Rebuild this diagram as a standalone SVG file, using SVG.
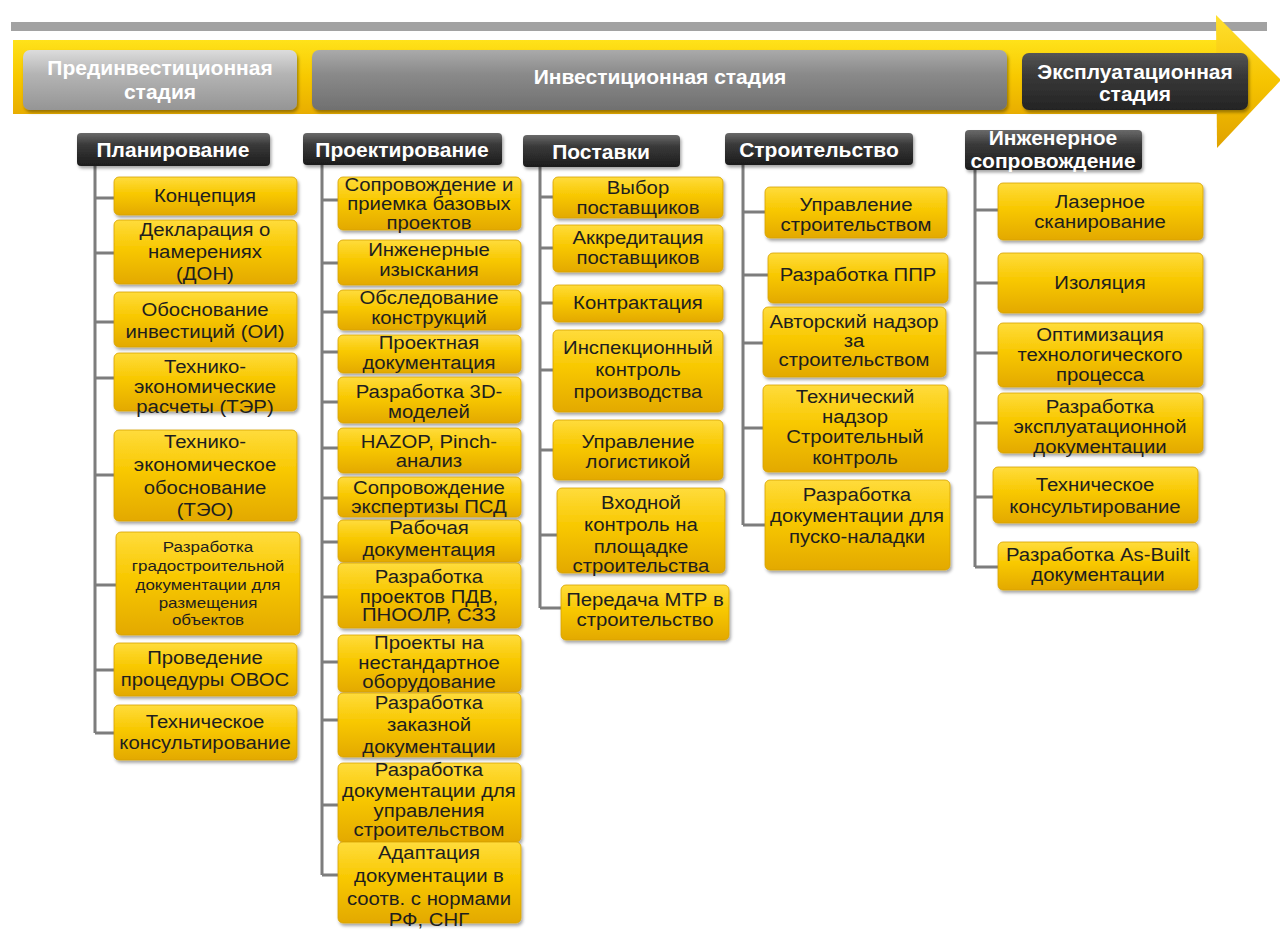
<svg xmlns="http://www.w3.org/2000/svg" width="1280" height="931" viewBox="0 0 1280 931">
<defs>
<linearGradient id="gold" x1="0" y1="0" x2="0" y2="1">
<stop offset="0" stop-color="#ffdc3c"/>
<stop offset="0.45" stop-color="#f8c800"/>
<stop offset="1" stop-color="#e3a900"/>
</linearGradient>
<linearGradient id="band" x1="0" y1="0" x2="0" y2="1">
<stop offset="0" stop-color="#ffe21a"/>
<stop offset="0.5" stop-color="#f7c800"/>
<stop offset="1" stop-color="#e8ad00"/>
</linearGradient>
<linearGradient id="head" x1="0" y1="0" x2="0" y2="1">
<stop offset="0" stop-color="#ffe030"/>
<stop offset="0.5" stop-color="#f6c400"/>
<stop offset="1" stop-color="#e0a200"/>
</linearGradient>
<linearGradient id="dark" x1="0" y1="0" x2="0" y2="1">
<stop offset="0" stop-color="#6a6a6a"/>
<stop offset="0.35" stop-color="#3a3a3a"/>
<stop offset="1" stop-color="#1c1c1c"/>
</linearGradient>
<linearGradient id="pre" x1="0" y1="0" x2="0" y2="1">
<stop offset="0" stop-color="#dcdcdc"/>
<stop offset="0.4" stop-color="#b4b4b4"/>
<stop offset="1" stop-color="#959595"/>
</linearGradient>
<linearGradient id="inv" x1="0" y1="0" x2="0" y2="1">
<stop offset="0" stop-color="#aaaaaa"/>
<stop offset="0.4" stop-color="#8a8a8a"/>
<stop offset="1" stop-color="#707070"/>
</linearGradient>
<linearGradient id="eks" x1="0" y1="0" x2="0" y2="1">
<stop offset="0" stop-color="#555555"/>
<stop offset="0.4" stop-color="#383838"/>
<stop offset="1" stop-color="#242424"/>
</linearGradient>
<filter id="sh" x="-10%" y="-20%" width="120%" height="150%">
<feDropShadow dx="1.5" dy="2.5" stdDeviation="1.5" flood-color="#000" flood-opacity="0.35"/>
</filter>
</defs>
<style>
.box{fill:url(#gold);stroke:#d7a200;stroke-width:0.8;filter:url(#sh)}
.hdr{fill:url(#dark);filter:url(#sh)}
.t{font-family:"Liberation Sans",Arial,sans-serif;font-size:18px;fill:#1e1e1e;text-anchor:middle;transform:scaleX(1.13);transform-box:fill-box;transform-origin:center}
.s{font-size:15px}
.h{font-family:"Liberation Sans",Arial,sans-serif;font-size:21px;font-weight:bold;fill:#ffffff;text-anchor:middle}
.st{font-family:"Liberation Sans",Arial,sans-serif;font-size:21px;font-weight:bold;fill:#ffffff;text-anchor:middle}
.ln{stroke:#7d7d7d;stroke-width:3;fill:none}
</style>
<rect width="1280" height="931" fill="#ffffff"/>
<g id="timeline">
<rect x="11" y="22" width="1256" height="9" fill="#a2a2a2"/>
<rect x="13" y="40" width="1206" height="74" fill="url(#band)"/>
<polygon points="1216,15 1281,80 1217,148" fill="url(#head)"/>
</g>
<g id="stage-pre">
<rect x="23" y="50" width="274" height="60" rx="7" fill="url(#pre)" filter="url(#sh)"/>
<text class="st" x="160" y="75">Прединвестиционная</text>
<text class="st" x="160" y="99">стадия</text>
</g>
<g id="stage-inv">
<rect x="312" y="50" width="695" height="60" rx="7" fill="url(#inv)" filter="url(#sh)"/>
<text class="st" x="660" y="84">Инвестиционная стадия</text>
</g>
<g id="stage-eks">
<rect x="1022" y="53" width="226" height="57" rx="7" fill="url(#eks)" filter="url(#sh)"/>
<text class="st" x="1135" y="79">Эксплуатационная</text>
<text class="st" x="1135" y="101">стадия</text>
</g>
<g id="connectors">
<path class="ln" d="M95,166V733M95,198H115M95,253H115M95,322H115M95,378H115M95,475H115M95,585H117M95,670H115M95,733H115"/>
<path class="ln" d="M322,165V875M322,200H338M322,263H338M322,312H338M322,352H338M322,402H338M322,448H338M322,498H338M322,542H338M322,597H338M322,662H338M322,720H338M322,805H338M322,875H338"/>
<path class="ln" d="M540,167V608M540,197H553M540,248H553M540,303H553M540,370H553M540,450H553M540,535H557M540,608H561"/>
<path class="ln" d="M743,165V525M743,212H765M743,275H768M743,343H763M743,428H763M743,525H765"/>
<path class="ln" d="M975,170V567M975,210H998M975,283H998M975,353H998M975,423H998M975,497H993M975,567H998"/>
</g>
<g id="h-plan"><rect class="hdr" x="77" y="133" width="193" height="33" rx="4"/><text class="h" x="173" y="157">Планирование</text></g>
<g id="h-proj"><rect class="hdr" x="303" y="133" width="199" height="32" rx="4"/><text class="h" x="402" y="157">Проектирование</text></g>
<g id="h-supp"><rect class="hdr" x="523" y="135" width="157" height="32" rx="4"/><text class="h" x="601" y="159">Поставки</text></g>
<g id="h-constr"><rect class="hdr" x="725" y="133" width="188" height="32" rx="4"/><text class="h" x="819" y="157">Строительство</text></g>
<g id="h-eng"><rect class="hdr" x="965" y="130" width="177" height="40" rx="4"/><text class="h" x="1053" y="145">Инженерное</text><text class="h" x="1053" y="168">сопровождение</text></g>

<g id="p1"><rect class="box" x="114" y="177" width="183" height="38" rx="5"/><text class="t" x="205" y="202">Концепция</text></g>
<g id="p2"><rect class="box" x="114" y="220" width="183" height="64" rx="5"/><text class="t" x="205" y="236">Декларация о</text><text class="t" x="205" y="258">намерениях</text><text class="t" x="205" y="280">(ДОН)</text></g>
<g id="p3"><rect class="box" x="114" y="292" width="183" height="55" rx="5"/><text class="t" x="205" y="316">Обоснование</text><text class="t" x="205" y="338">инвестиций (ОИ)</text></g>
<g id="p4"><rect class="box" x="114" y="353" width="183" height="58" rx="5"/><text class="t" x="205" y="373">Технико-</text><text class="t" x="205" y="393">экономические</text><text class="t" x="205" y="413">расчеты (ТЭР)</text></g>
<g id="p5"><rect class="box" x="114" y="430" width="183" height="91" rx="5"/><text class="t" x="205" y="448">Технико-</text><text class="t" x="205" y="471">экономическое</text><text class="t" x="205" y="494">обоснование</text><text class="t" x="205" y="516">(ТЭО)</text></g>
<g id="p6"><rect class="box" x="116" y="532" width="184" height="103" rx="5"/><text class="t s" x="208" y="552">Разработка</text><text class="t s" x="208" y="571">градостроительной</text><text class="t s" x="208" y="590">документации  для</text><text class="t s" x="208" y="608">размещения</text><text class="t s" x="208" y="625">объектов</text></g>
<g id="p7"><rect class="box" x="114" y="643" width="183" height="53" rx="5"/><text class="t" x="205" y="664">Проведение</text><text class="t" x="205" y="686">процедуры ОВОС</text></g>
<g id="p8"><rect class="box" x="114" y="705" width="183" height="55" rx="5"/><text class="t" x="205" y="728">Техническое</text><text class="t" x="205" y="749">консультирование</text></g>

<g id="d1"><rect class="box" x="338" y="177" width="183" height="53" rx="5"/><text class="t" x="429" y="191">Сопровождение и</text><text class="t" x="429" y="210">приемка базовых</text><text class="t" x="429" y="229">проектов</text></g>
<g id="d2"><rect class="box" x="338" y="240" width="183" height="45" rx="5"/><text class="t" x="429" y="256">Инженерные</text><text class="t" x="429" y="276">изыскания</text></g>
<g id="d3"><rect class="box" x="338" y="290" width="183" height="40" rx="5"/><text class="t" x="429" y="304">Обследование</text><text class="t" x="429" y="324">конструкций</text></g>
<g id="d4"><rect class="box" x="338" y="335" width="183" height="38" rx="5"/><text class="t" x="429" y="349">Проектная</text><text class="t" x="429" y="369">документация</text></g>
<g id="d5"><rect class="box" x="338" y="377" width="183" height="46" rx="5"/><text class="t" x="429" y="398">Разработка 3D-</text><text class="t" x="429" y="418">моделей</text></g>
<g id="d6"><rect class="box" x="338" y="428" width="183" height="45" rx="5"/><text class="t" x="429" y="448">HAZOP, Pinch-</text><text class="t" x="429" y="467">анализ</text></g>
<g id="d7"><rect class="box" x="338" y="477" width="183" height="40" rx="5"/><text class="t" x="429" y="494">Сопровождение</text><text class="t" x="429" y="513">экспертизы ПСД</text></g>
<g id="d8"><rect class="box" x="338" y="520" width="183" height="42" rx="5"/><text class="t" x="429" y="534">Рабочая</text><text class="t" x="429" y="556">документация</text></g>
<g id="d9"><rect class="box" x="338" y="563" width="183" height="65" rx="5"/><text class="t" x="429" y="583">Разработка</text><text class="t" x="429" y="603">проектов ПДВ,</text><text class="t" x="429" y="621">ПНООЛР, СЗЗ</text></g>
<g id="d10"><rect class="box" x="338" y="635" width="183" height="57" rx="5"/><text class="t" x="429" y="649">Проекты на</text><text class="t" x="429" y="669">нестандартное</text><text class="t" x="429" y="688">оборудование</text></g>
<g id="d11"><rect class="box" x="338" y="693" width="183" height="64" rx="5"/><text class="t" x="429" y="709">Разработка</text><text class="t" x="429" y="731">заказной</text><text class="t" x="429" y="753">документации</text></g>
<g id="d12"><rect class="box" x="338" y="763" width="183" height="79" rx="5"/><text class="t" x="429" y="776">Разработка</text><text class="t" x="429" y="797">документации для</text><text class="t" x="429" y="817">управления</text><text class="t" x="429" y="836">строительством</text></g>
<g id="d13"><rect class="box" x="338" y="842" width="183" height="81" rx="5"/><text class="t" x="429" y="859">Адаптация</text><text class="t" x="429" y="882">документации в</text><text class="t" x="429" y="905">соотв. с нормами</text><text class="t" x="429" y="926">РФ, СНГ</text></g>

<g id="s1"><rect class="box" x="553" y="177" width="170" height="41" rx="5"/><text class="t" x="638" y="194">Выбор</text><text class="t" x="638" y="214">поставщиков</text></g>
<g id="s2"><rect class="box" x="553" y="225" width="170" height="47" rx="5"/><text class="t" x="638" y="244">Аккредитация</text><text class="t" x="638" y="264">поставщиков</text></g>
<g id="s3"><rect class="box" x="553" y="285" width="170" height="37" rx="5"/><text class="t" x="638" y="309">Контрактация</text></g>
<g id="s4"><rect class="box" x="553" y="330" width="170" height="82" rx="5"/><text class="t" x="638" y="354">Инспекционный</text><text class="t" x="638" y="376">контроль</text><text class="t" x="638" y="398">производства</text></g>
<g id="s5"><rect class="box" x="553" y="420" width="170" height="60" rx="5"/><text class="t" x="638" y="448">Управление</text><text class="t" x="638" y="468">логистикой</text></g>
<g id="s6"><rect class="box" x="557" y="488" width="168" height="85" rx="5"/><text class="t" x="641" y="509">Входной</text><text class="t" x="641" y="531">контроль на</text><text class="t" x="641" y="553">площадке</text><text class="t" x="641" y="572">строительства</text></g>
<g id="s7"><rect class="box" x="561" y="585" width="168" height="55" rx="5"/><text class="t" x="645" y="606">Передача МТР в</text><text class="t" x="645" y="626">строительство</text></g>

<g id="c1"><rect class="box" x="765" y="187" width="182" height="51" rx="5"/><text class="t" x="856" y="211">Управление</text><text class="t" x="856" y="231">строительством</text></g>
<g id="c2"><rect class="box" x="768" y="253" width="180" height="50" rx="5"/><text class="t" x="858" y="281">Разработка ППР</text></g>
<g id="c3"><rect class="box" x="763" y="307" width="183" height="70" rx="5"/><text class="t" x="854" y="328">Авторский надзор</text><text class="t" x="854" y="347">за</text><text class="t" x="854" y="366">строительством</text></g>
<g id="c4"><rect class="box" x="763" y="385" width="185" height="87" rx="5"/><text class="t" x="855" y="403">Технический</text><text class="t" x="855" y="423">надзор</text><text class="t" x="855" y="443">Строительный</text><text class="t" x="855" y="464">контроль</text></g>
<g id="c5"><rect class="box" x="765" y="480" width="185" height="90" rx="5"/><text class="t" x="857" y="501">Разработка</text><text class="t" x="857" y="522">документации для</text><text class="t" x="857" y="543">пуско-наладки</text></g>

<g id="e1"><rect class="box" x="998" y="183" width="205" height="57" rx="5"/><text class="t" x="1100" y="208">Лазерное</text><text class="t" x="1100" y="228">сканирование</text></g>
<g id="e2"><rect class="box" x="998" y="253" width="205" height="60" rx="5"/><text class="t" x="1100" y="289">Изоляция</text></g>
<g id="e3"><rect class="box" x="998" y="323" width="205" height="64" rx="5"/><text class="t" x="1100" y="341">Оптимизация</text><text class="t" x="1100" y="361">технологического</text><text class="t" x="1100" y="381">процесса</text></g>
<g id="e4"><rect class="box" x="998" y="393" width="205" height="60" rx="5"/><text class="t" x="1100" y="413">Разработка</text><text class="t" x="1100" y="433">эксплуатационной</text><text class="t" x="1100" y="453">документации</text></g>
<g id="e5"><rect class="box" x="993" y="467" width="205" height="56" rx="5"/><text class="t" x="1095" y="491">Техническое</text><text class="t" x="1095" y="513">консультирование</text></g>
<g id="e6"><rect class="box" x="998" y="542" width="200" height="48" rx="5"/><text class="t" x="1098" y="561">Разработка As-Built</text><text class="t" x="1098" y="581">документации</text></g>
</svg>
